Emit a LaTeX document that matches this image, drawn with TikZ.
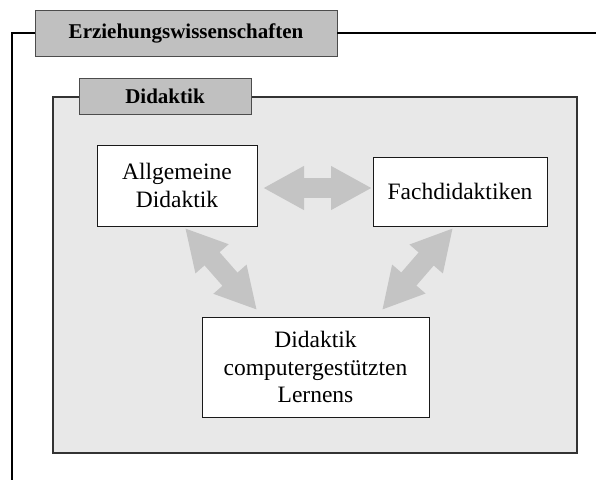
\documentclass[tikz,border=0pt]{standalone}
\usepackage{fontspec}
\setmainfont{Liberation Serif}
\usetikzlibrary{arrows.meta}
\definecolor{tabgray}{HTML}{C0C0C0}
\definecolor{arrowgray}{HTML}{C4C4C4}
\definecolor{panelgray}{HTML}{E8E8E8}
\definecolor{framedark}{HTML}{333333}
\begin{document}
\begin{tikzpicture}[x=1pt,y=-1pt,
  every node/.style={inner sep=0pt, outer sep=0pt},
  topic/.style={draw=black!90, line width=1pt, fill=white, align=center,
    font=\fontsize{23.5}{27.5}\selectfont},
  tab/.style={draw=black!70, line width=1pt, fill=tabgray,
    font=\bfseries\fontsize{21}{24}\selectfont},
  panel/.style={draw=framedark, line width=1.6pt, fill=panelgray},
  link/.style={draw=arrowgray, line width=20pt,
    {Triangle[length=41pt,width=41pt]}-{Triangle[length=41pt,width=41pt]}},
]
\useasboundingbox (0,0) rectangle (596,480);

% outer frame with its tab
\node[tab, minimum width=302pt, minimum height=46pt] (erz) at (186,33) {Erziehungswissenschaften};
\coordinate (outerbottom) at (12,480);
\coordinate (outerright) at (596,33);
\draw[line width=1.2pt] (erz.west) -| (outerbottom);
\draw[line width=1.2pt] (erz.east) -- (outerright);

% inner panel with its tab
\node[panel, minimum width=524pt, minimum height=356pt] (panel) at (315,275) {};
\node[tab, minimum width=172pt, minimum height=36pt] (did) at (165,96) {Didaktik};

% arrow end points
\coordinate (h1) at (263,188);
\coordinate (h2) at (372,188);
\coordinate (l1) at (185,228);
\coordinate (l2) at (257,310);
\coordinate (r1) at (453,228);
\coordinate (r2) at (382,310);

% double arrows between the topics
\draw[link] (h1) -- (h2);
\draw[link] (l1) -- (l2);
\draw[link] (r1) -- (r2);

% topic boxes
\node[topic, minimum width=160pt, minimum height=81pt] (allg) at (177,185.5) {Allgemeine\\Didaktik};
\node[topic, minimum width=174pt, minimum height=69pt] (fach) at (460,191.5) {Fachdidaktiken};
\node[topic, minimum width=227pt, minimum height=100pt] (lern) at (315.5,367) {Didaktik\\computergestützten\\Lernens};
\end{tikzpicture}
\end{document}
